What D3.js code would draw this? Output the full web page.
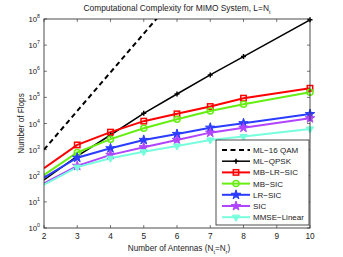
<!DOCTYPE html>
<html>
<head>
<meta charset="utf-8">
<script src="https://cdn.jsdelivr.net/npm/d3@7"></script>
<style>
  body { margin: 0; background: #fff; }
  text { font-family: "Liberation Sans", Arial, sans-serif; fill: #222; }
</style>
</head>
<body>
<div id="chart-area"></div>
<script>
// antenna counts (no point at 9)
var antennas = [2, 3, 4, 5, 6, 7, 8, 10];
var dashAntennas = [2, 3, 4, 5, 6];

// log10 of flops
var ml16qam    = [3.0, 4.48, 5.96, 7.44, 8.92];
var mlQpsk     = [1.84, 2.75, 3.56, 4.39, 5.13, 5.86, 6.56, 7.97];
var mbLrSic    = [2.29, 3.18, 3.67, 4.09, 4.37, 4.65, 4.97, 5.35];
var mbSic      = [2.03, 2.89, 3.40, 3.82, 4.16, 4.48, 4.74, 5.20];
var lrSic      = [1.93, 2.69, 3.05, 3.37, 3.60, 3.84, 4.01, 4.36];
var sic        = [1.71, 2.38, 2.80, 3.09, 3.37, 3.65, 3.84, 4.20];
var mmseLinear = [1.66, 2.33, 2.67, 2.92, 3.14, 3.37, 3.50, 3.79];

var xTicks = [2, 3, 4, 5, 6, 7, 8, 9, 10];
var yExps = [0, 1, 2, 3, 4, 5, 6, 7, 8];

var series = [
  { name: "ML\u221216 QAM", xs: dashAntennas, ys: ml16qam, color: "#000", marker: "none", dash: "5,3.5", w: 2 },
  { name: "ML\u2212QPSK", xs: antennas, ys: mlQpsk, color: "#000", marker: "plus", w: 1.5 },
  { name: "MB\u2212LR\u2212SIC", xs: antennas, ys: mbLrSic, color: "#ff0000", marker: "square", w: 2 },
  { name: "MB\u2212SIC", xs: antennas, ys: mbSic, color: "#66ee11", marker: "circle", w: 2 },
  { name: "LR\u2212SIC", xs: antennas, ys: lrSic, color: "#2a3cff", marker: "star", w: 2 },
  { name: "SIC", xs: antennas, ys: sic, color: "#b044ff", marker: "star", w: 2 },
  { name: "MMSE\u2212Linear", xs: antennas, ys: mmseLinear, color: "#77ffdd", marker: "tri", w: 2 }
];

var margin = { left: 44, right: 33, top: 19, bottom: 29 };
var width = 343 - margin.left - margin.right;
var height = 257 - margin.top - margin.bottom;

var svg = d3.select("#chart-area").append("svg")
  .attr("width", 343)
  .attr("height", 257);

var g = svg.append("g")
  .attr("transform", "translate(" + margin.left + "," + margin.top + ")");

var x = d3.scaleLinear().domain([2, 10]).range([0, width]);
var y = d3.scaleLinear().domain([0, 8]).range([height, 0]);

g.append("clipPath").attr("id", "clip")
  .append("rect").attr("width", width).attr("height", height);

// ticks inside, on all four sides
xTicks.forEach(function(t) {
  g.append("line").attr("x1", x(t)).attr("x2", x(t)).attr("y1", height).attr("y2", height - 3)
    .attr("stroke", "#222").attr("stroke-width", 0.6);
  g.append("line").attr("x1", x(t)).attr("x2", x(t)).attr("y1", 0).attr("y2", 3)
    .attr("stroke", "#222").attr("stroke-width", 0.6);
  g.append("text").attr("x", x(t)).attr("y", height + 11)
    .attr("text-anchor", "middle").attr("font-size", "8.3px").text(t);
});

yExps.forEach(function(e) {
  g.append("line").attr("x1", 0).attr("x2", 3).attr("y1", y(e)).attr("y2", y(e))
    .attr("stroke", "#222").attr("stroke-width", 0.6);
  g.append("line").attr("x1", width).attr("x2", width - 3).attr("y1", y(e)).attr("y2", y(e))
    .attr("stroke", "#222").attr("stroke-width", 0.6);
  var tx = g.append("text").attr("x", -4).attr("y", y(e) + 3)
    .attr("text-anchor", "end").attr("font-size", "7.8px");
  tx.append("tspan").text("10");
  tx.append("tspan").attr("dy", -4).attr("font-size", "5.2px").text(e);
});

var line = d3.line()
  .x(function(d) { return x(d[0]); })
  .y(function(d) { return y(d[1]); });

var plot = g.append("g").attr("clip-path", "url(#clip)");

function drawMarker(sel, s, cx, cy) {
  if (s.marker === "plus") {
    sel.append("path").attr("d", "M" + (cx - 2.5) + "," + cy + "h5M" + cx + "," + (cy - 2.5) + "v5")
      .attr("stroke", s.color).attr("stroke-width", 1.5);
  } else if (s.marker === "square") {
    sel.append("rect").attr("x", cx - 2.7).attr("y", cy - 2.7).attr("width", 5.4).attr("height", 5.4)
      .attr("fill", "none").attr("stroke", s.color).attr("stroke-width", 1.5);
  } else if (s.marker === "circle") {
    sel.append("circle").attr("cx", cx).attr("cy", cy).attr("r", 3)
      .attr("fill", "none").attr("stroke", s.color).attr("stroke-width", 1.5);
  } else if (s.marker === "star") {
    sel.append("path").attr("d", d3.symbol(d3.symbolStar, 28)())
      .attr("transform", "translate(" + cx + "," + cy + ")")
      .attr("fill", s.color).attr("stroke", s.color).attr("stroke-width", 1);
  } else if (s.marker === "tri") {
    sel.append("path").attr("d", d3.symbol(d3.symbolTriangle, 22)())
      .attr("transform", "translate(" + cx + "," + cy + ") rotate(180)")
      .attr("fill", s.color).attr("stroke", s.color).attr("stroke-width", 1);
  }
}

series.forEach(function(s) {
  var pts = s.xs.map(function(v, i) { return [v, s.ys[i]]; });
  plot.append("path").datum(pts)
    .attr("d", line)
    .attr("fill", "none")
    .attr("stroke", s.color)
    .attr("stroke-width", s.w)
    .attr("stroke-dasharray", s.dash || null);
});

series.forEach(function(s) {
  s.xs.forEach(function(v, i) {
    if (v === 2) return;
    drawMarker(g, s, x(v), y(s.ys[i]));
  });
});

// frame
g.append("rect").attr("width", width).attr("height", height)
  .attr("fill", "none").attr("stroke", "#222").attr("stroke-width", 0.8);

// legend
var lg = g.append("g").attr("transform", "translate(" + (216 - margin.left) + "," + (140 - margin.top) + ")");
lg.append("rect").attr("width", 93).attr("height", 85)
  .attr("fill", "#fff").attr("stroke", "#222").attr("stroke-width", 0.8);
series.forEach(function(s, i) {
  var yy = 10 + i * 11.2;
  lg.append("line").attr("x1", 6).attr("x2", 34).attr("y1", yy).attr("y2", yy)
    .attr("stroke", s.color).attr("stroke-width", s.w)
    .attr("stroke-dasharray", s.dash || null);
  drawMarker(lg, s, 20, yy);
  lg.append("text").attr("x", 37).attr("y", yy + 3)
    .attr("font-size", "8px").text(s.name);
});

// title
var title = svg.append("text").attr("x", margin.left + width / 2).attr("y", 11)
  .attr("text-anchor", "middle").attr("font-size", "8.4px");
title.append("tspan").text("Computational Complexity for MIMO System, L=N");
title.append("tspan").attr("dy", 2.5).attr("font-size", "5.5px").text("t");

// x label
var xl = svg.append("text").attr("x", margin.left + width / 2 + 2).attr("y", 251)
  .attr("text-anchor", "middle").attr("font-size", "8.2px");
xl.append("tspan").text("Number of Antennas  (N");
xl.append("tspan").attr("dy", 2.5).attr("font-size", "5.5px").text("t");
xl.append("tspan").attr("dy", -2.5).text("=N");
xl.append("tspan").attr("dy", 2.5).attr("font-size", "5.5px").text("r");
xl.append("tspan").attr("dy", -2.5).text(")");

// y label
svg.append("text")
  .attr("transform", "translate(24," + (margin.top + height / 2) + ") rotate(-90)")
  .attr("text-anchor", "middle").attr("font-size", "8.2px")
  .text("Number of Flops");
</script>
</body>
</html>
